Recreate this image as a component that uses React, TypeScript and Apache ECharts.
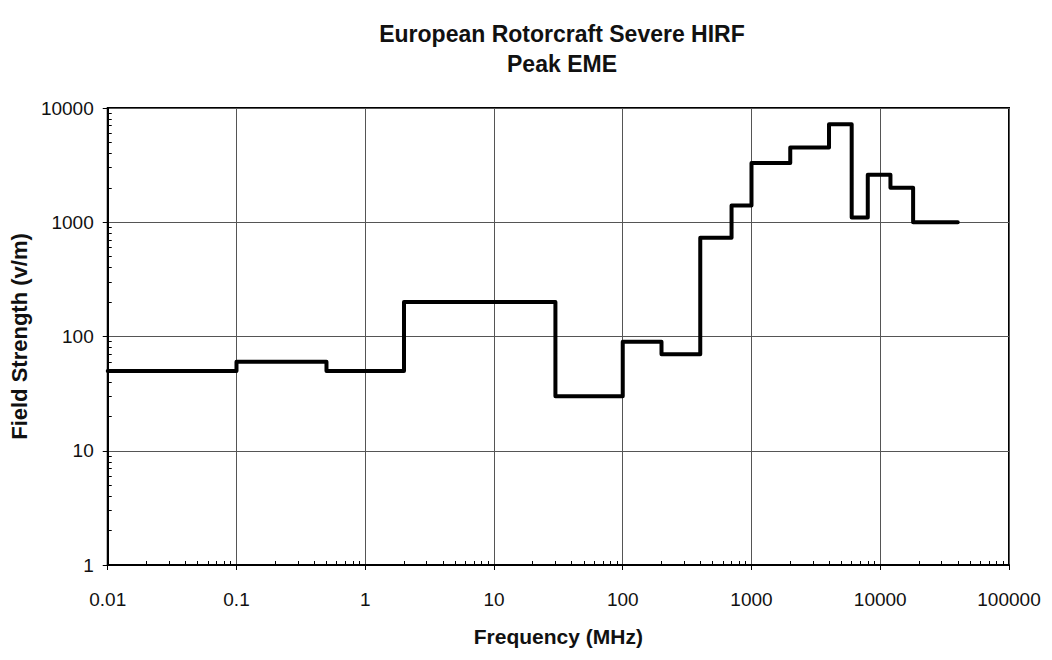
import React, { useEffect, useRef } from "react";
import * as echarts from "echarts";

// Frequency (MHz) where each step starts, and field strength (V/m) held until the next frequency
const freqStart: number[] = [0.01, 0.1, 0.5, 2, 30, 100, 200, 400, 700, 1000, 2000, 4000, 6000, 8000, 12000, 18000, 40000];
const fieldStrength: number[] = [50, 60, 50, 200, 30, 90, 70, 730, 1400, 3300, 4500, 7200, 1100, 2600, 2000, 1000, 1000];

const titleLines: string[] = ["European Rotorcraft Severe HIRF", "Peak EME"];
const xAxisTitle = "Frequency (MHz)";
const yAxisTitle = "Field Strength (v/m)";
const xTickLabels: string[] = ["0.01", "0.1", "1", "10", "100", "1000", "10000", "100000"];
const yTickLabels: string[] = ["1", "10", "100", "1000", "10000"];

const FONT = "'Liberation Sans', Arial, Helvetica, sans-serif";

export default function App() {
  const ref = useRef<HTMLDivElement>(null);
  useEffect(() => {
    if (!ref.current) return;
    const chart = echarts.init(ref.current, null, { renderer: "svg" });
    const fmtX = (v: number) => {
      const i = Math.round(Math.log10(v)) + 2;
      return xTickLabels[i] ?? String(v);
    };
    const fmtY = (v: number) => {
      const i = Math.round(Math.log10(v));
      return yTickLabels[i] ?? String(v);
    };
    chart.setOption({
      animation: false,
      backgroundColor: "#ffffff",
      title: {
        text: titleLines.join("\n"),
        left: 557,
        top: 14,
        textAlign: "center",
        textStyle: { fontFamily: FONT, fontSize: 23, fontWeight: "bold", color: "#111", lineHeight: 30 },
      },
      grid: {
        left: 106,
        right: 43,
        top: 108,
        bottom: 95,
        show: true,
        borderColor: "#000",
        borderWidth: 2,
        backgroundColor: "transparent",
      },
      xAxis: [
        {
          type: "log",
          logBase: 10,
          min: 0.01,
          max: 100000,
          name: xAxisTitle,
          nameLocation: "middle",
          nameGap: 61,
          nameTextStyle: { fontFamily: FONT, fontSize: 21, fontWeight: "bold", color: "#111" },
          axisLine: { show: true, lineStyle: { color: "#000", width: 2 } },
          axisTick: { show: true, inside: false, length: 5, lineStyle: { color: "#000" } },
          axisLabel: { formatter: fmtX, fontFamily: FONT, fontSize: 19, color: "#111", margin: 25 },
          splitLine: { show: true, lineStyle: { color: "#555", width: 1 } },
          minorTick: { show: false },
        },
        {
          type: "log",
          logBase: 10,
          min: 0.01,
          max: 100000,
          position: "bottom",
          axisLine: { show: false },
          axisTick: { show: false, inside: true },
          axisLabel: { show: false },
          splitLine: { show: false },
          minorTick: { show: true, splitNumber: 9, length: 4, lineStyle: { color: "#000" } },
        },
      ],
      yAxis: [
        {
          type: "log",
          logBase: 10,
          min: 1,
          max: 10000,
          name: yAxisTitle,
          nameLocation: "middle",
          nameGap: 73,
          nameRotate: 90,
          nameTextStyle: { fontFamily: FONT, fontSize: 22, fontWeight: "bold", color: "#111" },
          axisLine: { show: true, lineStyle: { color: "#000", width: 2 } },
          axisTick: { show: true, inside: false, length: 5, lineStyle: { color: "#000" } },
          axisLabel: { formatter: fmtY, fontFamily: FONT, fontSize: 19, color: "#111", margin: 14 },
          splitLine: { show: true, lineStyle: { color: "#555", width: 1 } },
        },
        {
          type: "log",
          logBase: 10,
          min: 1,
          max: 10000,
          position: "left",
          axisLine: { show: false },
          axisTick: { show: false, inside: true },
          axisLabel: { show: false },
          splitLine: { show: false },
          minorTick: { show: true, splitNumber: 9, length: 4, lineStyle: { color: "#000" } },
        },
      ],
      series: [
        {
          type: "line",
          step: "end",
          data: freqStart.map((f, i) => [f, fieldStrength[i]]),
          showSymbol: false,
          symbol: "none",
          lineStyle: { color: "#000", width: 4, cap: "round", join: "round" },
          xAxisIndex: 0,
          yAxisIndex: 0,
        },
      ],
    });
    return () => chart.dispose();
  }, []);
  return (
    <div
      ref={ref}
      style={{ position: "fixed", left: 0, top: 0, width: 1052, height: 660, background: "#fff" }}
    />
  );
}
